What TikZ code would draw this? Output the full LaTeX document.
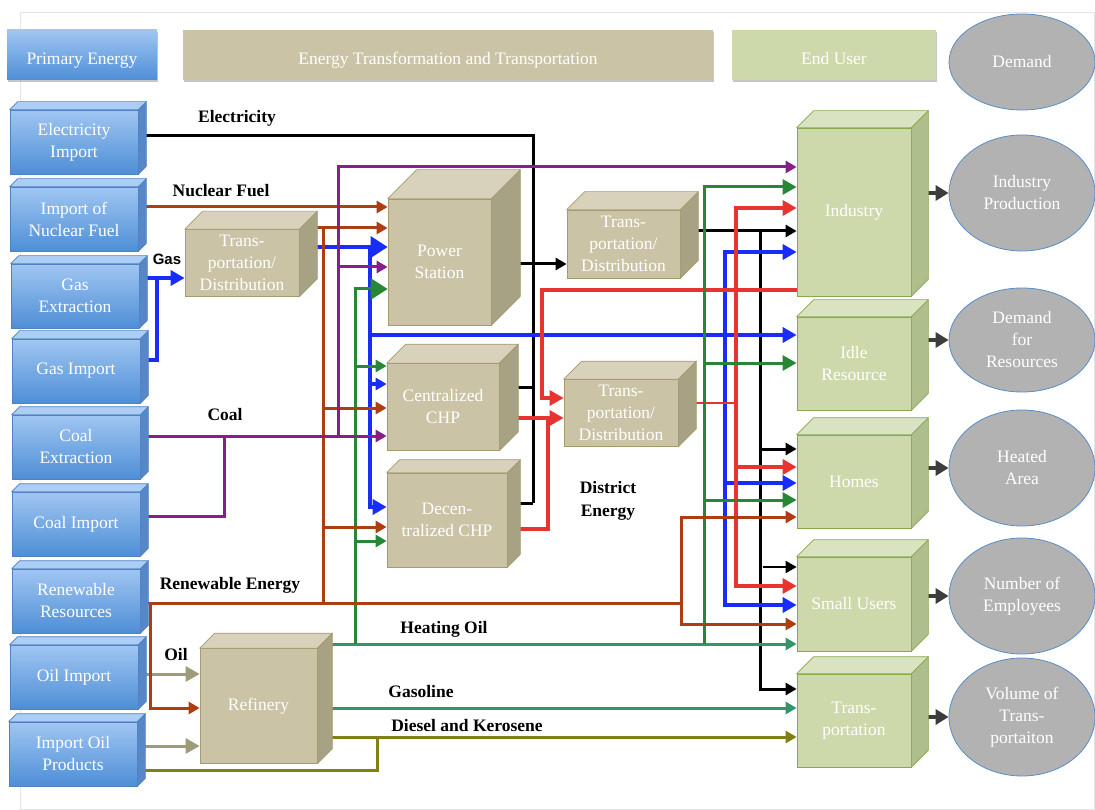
\documentclass[tikz,border=0pt]{standalone}
\usepackage{fontspec}
\setmainfont{Liberation Serif}
\newfontfamily\gasfont{Liberation Sans}
\usetikzlibrary{arrows.meta,calc,shapes.geometric,backgrounds,shadows}

\definecolor{blueTop}{RGB}{160,198,242}
\definecolor{blueBot}{RGB}{78,142,214}
\definecolor{blueSide}{RGB}{88,135,200}
\definecolor{blueLid}{RGB}{172,206,245}
\definecolor{blueEdge}{RGB}{80,130,195}
\definecolor{tanFront}{RGB}{203,195,166}
\definecolor{tanLid}{RGB}{216,210,188}
\definecolor{tanSide}{RGB}{168,162,132}
\definecolor{tanEdge}{RGB}{165,155,110}
\definecolor{usrFront}{RGB}{205,217,171}
\definecolor{usrLid}{RGB}{217,227,194}
\definecolor{usrSide}{RGB}{174,190,140}
\definecolor{usrEdge}{RGB}{135,168,75}
\definecolor{ellFill}{RGB}{178,178,178}
\definecolor{ellEdge}{RGB}{90,140,200}
\definecolor{cBlue}{RGB}{25,45,250}
\definecolor{cRed}{RGB}{232,52,48}
\definecolor{cGreen}{RGB}{40,135,55}
\definecolor{cTeal}{RGB}{50,150,105}
\definecolor{cBrown}{RGB}{172,62,18}
\definecolor{cPurple}{RGB}{132,32,135}
\definecolor{cOlive}{RGB}{130,128,20}
\definecolor{cKhaki}{RGB}{158,155,120}
\definecolor{cDemand}{RGB}{60,60,60}
\definecolor{frameGray}{RGB}{228,228,228}

\newcommand\bxfont{\fontsize{17.5}{22}\selectfont}
\newcommand\lbfont{\fontsize{17.5}{22.5}\selectfont\bfseries}

% lid and side faces of a box whose front face is the node #1
\newcommand\cubefaces[5]{%
  \filldraw[fill=#3,draw=#5,line width=0.7pt,line join=round]
    (#1.north west) -- ++(#2,-#2) -- ($(#1.north east)+(#2,-#2)$) -- (#1.north east) -- cycle;
  \filldraw[fill=#4,draw=#5,line width=0.7pt,line join=round]
    (#1.north east) -- ++(#2,-#2) -- ($(#1.south east)+(#2,-#2)$) -- (#1.south east) -- cycle;
}

\begin{document}
\begin{tikzpicture}[x=1pt,y=-1pt,
  hdr/.style={rectangle,minimum height=50pt,inner sep=0pt,text=white,font=\bxfont,
    text height=24pt,text depth=4pt,
    drop shadow={shadow xshift=1pt,shadow yshift=-2.5pt,opacity=0.45}},
  prim/.style={rectangle,minimum width=128pt,minimum height=64pt,inner sep=0pt,
    top color=blueTop,bottom color=blueBot,draw=blueEdge,line width=0.7pt,
    text=white,align=center,font=\bxfont},
  tanbox/.style={rectangle,inner sep=0pt,fill=tanFront,draw=tanEdge,line width=0.7pt,
    text=white,align=center,font=\bxfont},
  usrbox/.style={rectangle,minimum width=114pt,inner sep=0pt,fill=usrFront,draw=usrEdge,
    line width=0.7pt,text=white,align=center,font=\bxfont},
  dem/.style={ellipse,minimum width=146pt,inner sep=0pt,fill=ellFill,draw=ellEdge,
    line width=0.8pt,text=white,align=center,font=\bxfont},
  lbl/.style={inner sep=0pt,font=\lbfont,align=center},
  fl/.style={line width=3pt},
  fElec/.style={fl,draw=black},
  fGas/.style={fl,draw=cBlue,line width=3.6pt},
  fHeat/.style={fl,draw=cRed,line width=3.2pt},
  fGreen/.style={fl,draw=cGreen},
  fTeal/.style={fl,draw=cTeal},
  fOlive/.style={fl,draw=cOlive},
  fKhaki/.style={fl,draw=cKhaki},
  fBrown/.style={fl,draw=cBrown},
  fCoal/.style={fl,draw=cPurple},
  fDem/.style={line width=3.4pt,draw=cDemand,-{Triangle[length=13pt,width=15pt]}},
  tipS/.style={-{Triangle[length=11pt,width=12pt]}},
  tipM/.style={-{Triangle[length=14pt,width=15pt]}},
  tipL/.style={-{Triangle[length=17pt,width=21pt]}},
]
\useasboundingbox (0,0) rectangle (1095,810);

% ---------- header row ----------
\node[hdr,top color=blueTop,bottom color=blueBot,minimum width=150pt] (hPrim) at (82,55) {Primary Energy};
\node[hdr,fill=tanFront,minimum width=530pt] (hTrans) at (448,55) {Energy Transformation and Transportation};
\node[hdr,fill=usrFront,minimum width=204pt] (hUser) at (834,55) {End User};
\node[dem,minimum height=96pt] (dem) at (1022,62) {Demand};

% ---------- primary energy sources ----------
\node[prim] (ei)  at (74,142) {Electricity\\Import};
\node[prim] (nf)  at (74,219) {Import of\\Nuclear Fuel};
\node[prim] (ge)  at (75,296) {Gas\\Extraction};
\node[prim] (gi)  at (76,371) {Gas Import};
\node[prim] (ce)  at (76,447) {Coal\\Extraction};
\node[prim] (ci)  at (76,524) {Coal Import};
\node[prim] (rr)  at (76,601) {Renewable\\Resources};
\node[prim] (oi)  at (74,677) {Oil Import};
\node[prim] (iop) at (73,754) {Import Oil\\Products};
\foreach \b in {ei,nf,ge,gi,ce,ci,rr,oi,iop}{\cubefaces{\b}{8}{blueLid}{blueSide}{blueEdge}}

% ---------- transformation and transport ----------
\node[tanbox,minimum width=114pt,minimum height=67pt] (td1) at (242,263) {Trans-\\portation/\\Distribution};
\node[tanbox,minimum width=103pt,minimum height=126pt] (ps) at (439.5,262) {Power\\Station};
\node[tanbox,minimum width=113pt,minimum height=68pt] (td2) at (623.5,244) {Trans-\\portation/\\Distribution};
\node[tanbox,minimum width=112pt,minimum height=87pt] (cchp) at (443,407) {Centralized\\CHP};
\node[tanbox,minimum width=120pt,minimum height=94pt] (dchp) at (447,520) {Decen-\\tralized CHP};
\node[tanbox,minimum width=114pt,minimum height=67pt] (td3) at (621,413) {Trans-\\portation/\\Distribution};
\node[tanbox,minimum width=117pt,minimum height=115pt] (ref) at (258.5,706) {Refinery};
\cubefaces{td1}{18}{tanLid}{tanSide}{tanEdge}
\cubefaces{ps}{29}{tanLid}{tanSide}{tanEdge}
\cubefaces{td2}{18}{tanLid}{tanSide}{tanEdge}
\cubefaces{cchp}{19}{tanLid}{tanSide}{tanEdge}
\cubefaces{dchp}{13}{tanLid}{tanSide}{tanEdge}
\cubefaces{td3}{18}{tanLid}{tanSide}{tanEdge}
\cubefaces{ref}{15}{tanLid}{tanSide}{tanEdge}

% ---------- end users ----------
\node[usrbox,minimum height=168pt] (ind)   at (854,212)   {Industry};
\node[usrbox,minimum height=93pt]  (idle)  at (854,363.5) {Idle\\Resource};
\node[usrbox,minimum height=93pt]  (homes) at (854,481.5) {Homes};
\node[usrbox,minimum height=94pt]  (small) at (854,604)   {Small Users};
\node[usrbox,minimum height=93pt]  (trans) at (854,720.5) {Trans-\\portation};
\foreach \b in {ind,idle,homes,small,trans}{\cubefaces{\b}{17}{usrLid}{usrSide}{usrEdge}}

% ---------- demand ----------
\node[dem,minimum height=116pt] (ip)  at (1022,193) {Industry\\Production};
\node[dem,minimum height=104pt] (dfr) at (1022,340) {Demand\\for\\Resources};
\node[dem,minimum height=116pt] (ha)  at (1022,468) {Heated\\Area};
\node[dem,minimum height=116pt] (ne)  at (1022,596) {Number of\\Employees};
\node[dem,minimum height=118pt] (vt)  at (1022,717) {Volume of\\Trans-\\portaiton};

% ---------- flow labels ----------
\node[lbl] (lElec)   at (237,118) {Electricity};
\node[lbl] (lNuc)    at (221,191) {Nuclear Fuel};
\node[inner sep=0pt,font=\gasfont\fontsize{15}{17}\selectfont\bfseries] (lGas) at (167,259) {Gas};
\node[lbl] (lCoal)   at (225,415) {Coal};
\node[lbl] (lRen)    at (230,585) {Renewable Energy};
\node[lbl] (lOil)    at (176,655) {Oil};
\node[lbl] (lHeat)   at (444,629) {Heating Oil};
\node[lbl] (lGasol)  at (421,692) {Gasoline};
\node[lbl] (lDiesel) at (467,726) {Diesel and Kerosene};
\node[lbl] (lDist)   at (608,501) {District\\Energy};

% ---------- bus lines ----------
\coordinate (xE)  at (533,0);
\coordinate (xE2) at (760,0);
\coordinate (xG)  at (157,0);
\coordinate (xG1) at (370,0);
\coordinate (xG2) at (725,0);
\coordinate (xH1) at (542,0);
\coordinate (xH2) at (548,0);
\coordinate (xH3) at (736,0);
\coordinate (xO1) at (355,0);
\coordinate (xO2) at (704,0);
\coordinate (xD)  at (377,0);
\coordinate (xR0) at (150,0);
\coordinate (xR1) at (323,0);
\coordinate (xR2) at (681,0);
\coordinate (xC0) at (224,0);
\coordinate (xC1) at (338,0);

\begin{scope}[on background layer]
  \draw[frameGray,line width=0.8pt] (20,12) rectangle (1094,809);

  % electricity
  \draw[fElec] (ei.east |- 0,136) -| (xE |- 0,503);
  \draw[fElec] (cchp.east |- 0,387) -- (xE |- 0,387);
  \draw[fElec] (dchp.east |- 0,503) -- (xE |- 0,503);
  \draw[fElec,tipS] (ps.east |- 0,264) -- (td2.west |- 0,264);
  \draw[fElec,tipS] (td2.east |- 0,231) -- (ind.west |- 0,231);
  \draw[fElec,tipS] (xE2 |- 0,231) |- (trans.west |- 0,689);
  \draw[fElec,tipS] (xE2 |- 0,449) -- (homes.west |- 0,449);
  \draw[fElec,line width=2pt,tipS] (763,567) -- (small.west |- 0,567);

  % gas
  \draw[fGas] (gi.east |- 0,360) -| (xG |- 0,278);
  \draw[fGas,tipM] (ge.east |- 0,278) -- (td1.west |- 0,278);
  \draw[fGas,tipL] (td1.east |- 0,247) -- (ps.west |- 0,247);
  \draw[fGas,tipM] (xG1 |- 0,247) |- (dchp.west |- 0,507);
  \draw[fGas,tipS] (xG1 |- 0,384) -- (cchp.west |- 0,384);
  \draw[fGas,tipM] (xG1 |- 0,335) -- (idle.west |- 0,335);
  \draw[fGas,tipM] (xG2 |- 0,335) |- (ind.west |- 0,252);
  \draw[fGas,tipM] (xG2 |- 0,335) |- (small.west |- 0,605);
  \draw[fGas,tipM] (xG2 |- 0,483) -- (homes.west |- 0,483);

  % district heat
  \draw[fHeat,tipM] (cchp.east |- 0,418) -- (td3.west |- 0,418);
  \draw[fHeat] (dchp.east |- 0,529) -| (xH2 |- 0,418);
  \draw[fHeat,tipM] (ind.west |- 0,290) -| (xH1 |- 0,398) -- (td3.west |- 0,398);
  \draw[fHeat,line width=1.8pt] (td3.east |- 0,403) -- (xH3 |- 0,403);
  \draw[fHeat,tipM] (xH3 |- 0,403) |- (ind.west |- 0,208);
  \draw[fHeat,tipM] (xH3 |- 0,403) |- (small.west |- 0,586);
  \draw[fHeat,tipM] (xH3 |- 0,467) -- (homes.west |- 0,467);

  % heating oil, gasoline, diesel
  \draw[fTeal,tipS] (ref.east |- 0,644) -- (small.west |- 0,644);
  \draw[fGreen,tipL] (xO1 |- 0,644) |- (ps.west |- 0,289);
  \draw[fGreen,tipS] (xO1 |- 0,366) -- (cchp.west |- 0,366);
  \draw[fGreen,tipS] (xO1 |- 0,541) -- (dchp.west |- 0,541);
  \draw[fGreen,tipM] (xO2 |- 0,644) |- (ind.west |- 0,187);
  \draw[fGreen,tipM] (xO2 |- 0,363) -- (idle.west |- 0,363);
  \draw[fGreen,tipM] (xO2 |- 0,500) -- (homes.west |- 0,500);
  \draw[fTeal,tipS] (ref.east |- 0,708) -- (trans.west |- 0,708);
  \draw[fOlive,tipS] (ref.east |- 0,737) -- (trans.west |- 0,737);
  \draw[fOlive] (iop.east |- 0,770) -| (xD |- 0,737);

  % crude oil
  \draw[fKhaki,tipM] (oi.east |- 0,674) -- (ref.west |- 0,674);
  \draw[fKhaki,tipM] (iop.east |- 0,746) -- (ref.west |- 0,746);

  % nuclear and renewable
  \draw[fBrown,tipS] (nf.east |- 0,207) -- (ps.west |- 0,207);
  \draw[fBrown] (rr.east |- 0,603) -- (xR2 |- 0,603);
  \draw[fBrown,tipS] (xR2 |- 0,603) |- (homes.west |- 0,517);
  \draw[fBrown,tipS] (xR2 |- 0,603) |- (small.west |- 0,624);
  \draw[fBrown,tipS] (xR1 |- 0,603) |- (ps.west |- 0,228);
  \draw[fBrown] (td1.east |- 0,228) -- (xR1 |- 0,228);
  \draw[fBrown,tipS] (xR1 |- 0,408) -- (cchp.west |- 0,408);
  \draw[fBrown,tipS] (xR1 |- 0,527) -- (dchp.west |- 0,527);
  \draw[fBrown,tipS] (xR0 |- 0,603) |- (ref.west |- 0,708);

  % coal
  \draw[fCoal,tipS] (ce.east |- 0,436) -- (cchp.west |- 0,436);
  \draw[fCoal] (ci.east |- 0,516) -| (xC0 |- 0,436);
  \draw[fCoal,tipS] (xC1 |- 0,436) |- (ind.west |- 0,167);
  \draw[fCoal,tipS] (xC1 |- 0,267) -- (ps.west |- 0,267);

  % end use to demand
  \draw[fDem] (ind.east |- ip.west) -- (ip.west);
  \draw[fDem] (idle.east |- dfr.west) -- (dfr.west);
  \draw[fDem] (homes.east |- ha.west) -- (ha.west);
  \draw[fDem] (small.east |- ne.west) -- (ne.west);
  \draw[fDem] (trans.east |- vt.west) -- (vt.west);
\end{scope}
\end{tikzpicture}
\end{document}
